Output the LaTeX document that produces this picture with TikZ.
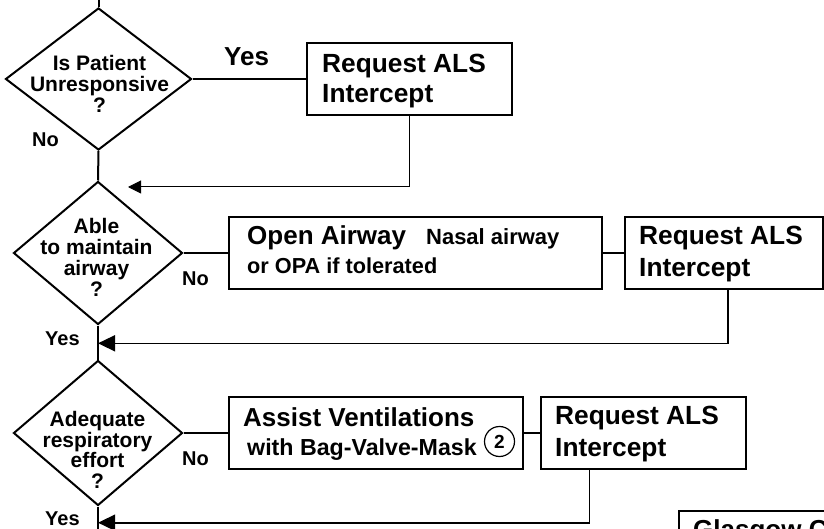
\documentclass[tikz,border=0pt]{standalone}
\usepackage{fontspec}
\setmainfont{Liberation Sans}
\usetikzlibrary{shapes.geometric,arrows.meta}
\begin{document}
\begin{tikzpicture}[x=1pt,y=-1pt,
  dia/.style={diamond, draw, line width=2pt, inner sep=0pt},
  dtext/.style={align=center, inner sep=0pt, font=\bfseries\fontsize{21}{21}\selectfont},
  box/.style={rectangle, draw, line width=2pt, inner sep=0pt, minimum height=72pt},
  btext/.style={align=left, inner sep=0pt, anchor=west},
  lab/.style={inner sep=0pt, anchor=base west, font=\bfseries\fontsize{20}{20}\selectfont},
  spine/.style={line width=2pt},
  link/.style={line width=1.6pt},
  arr/.style={line width=1.6pt, -{Triangle[length=17pt,width=16pt]}},
  thinarr/.style={line width=1pt, -{Triangle[length=13pt,width=13pt]}},
]
\useasboundingbox (0,0) rectangle (824,529);
\clip (0,0) rectangle (824,529);

% decision diamonds
\node[dia, minimum width=186pt, minimum height=142pt] (d1) at (98.5,79) {};
\node[dtext] (d1t) at (99.5,83.4) {Is Patient\\Unresponsive\\?};
\node[dia, minimum width=169pt, minimum height=143pt] (d2) at (98,253) {};
\node[dtext] (d2t) at (96.5,257.8) {Able\\to maintain\\airway\\?};
\node[dia, minimum width=169pt, minimum height=145pt] (d3) at (98,433) {};
\node[dtext, font=\bfseries\fontsize{21}{20.4}\selectfont] (d3t) at (97.5,449.8) {Adequate\\respiratory\\effort\\?};

% boxes
\node[box, minimum width=205pt] (b1) at (409.5,79) {};
\node[btext, font=\bfseries\fontsize{26.3}{30}\selectfont] (b1t) at (322,81.5) {Request ALS\\Intercept};

\node[box, minimum width=373pt] (b2) at (415.5,253) {};
\node[btext, font=\bfseries\fontsize{26}{28.3}\selectfont] (b2t) at (247,249.7)
  {Open Airway\hspace{20pt}{\fontsize{22}{28.3}\selectfont Nasal airway}\\{\fontsize{21.7}{28.3}\selectfont or OPA if tolerated}};

\node[box, minimum width=197.5pt] (b3) at (723.75,253) {};
\node[btext, font=\bfseries\fontsize{26.3}{32}\selectfont] (b3t) at (639,254.5) {Request ALS\\Intercept};

\node[box, minimum width=294pt] (b4) at (376,433) {};
\node[btext, font=\bfseries\fontsize{26}{28.3}\selectfont] (b4t) at (243,433.9)
  {Assist Ventilations\\\hspace*{4pt}{\fontsize{23.2}{28.3}\selectfont with Bag-Valve-Mask}};
\node[circle, draw, line width=1.2pt, minimum size=30pt, inner sep=0pt,
  font=\bfseries\fontsize{19}{19}\selectfont] (c2) at (499.5,441.5) {2};

\node[box, minimum width=204.7pt] (b5) at (643.35,433) {};
\node[btext, font=\bfseries\fontsize{26.3}{31.7}\selectfont] (b5t) at (555,434.3) {Request ALS\\Intercept};

\node[box, minimum width=240pt, minimum height=100pt] (b6) at (799.3,560.7) {};
\node[lab, font=\bfseries\fontsize{26}{30}\selectfont] (b6t) at (693,538.6) {Glasgow C};

% labels
\node[lab, font=\bfseries\fontsize{26}{26}\selectfont] (yes1) at (224,66) {Yes};
\node[lab] (no1) at (32,147) {No};
\node[lab] (no2) at (182,285) {No};
\node[lab] (yes2) at (45,345) {Yes};
\node[lab] (no3) at (182,465) {No};
\node[lab] (yes3) at (45,525) {Yes};

% free ends
\coordinate (top) at (98.5,-5);
\coordinate (bot) at (98,540);
\coordinate (a1) at (128,187);
\coordinate (a2) at (98,343.3);
\coordinate (a3) at (98,522.7);

% spine
\draw[spine] (top) -- (d1.north);
\draw[spine] (d1.south) -- (d2.north);
\draw[spine] (d2.south) -- (d3.north);
\draw[spine] (d3.south) -- (bot);

% links
\draw[spine] (d1.east) -- (b1.west);
\draw[link] (d2.east) -- (b2.west);
\draw[link] (b2.east) -- (b3.west);
\draw[link] (d3.east) -- (b4.west);
\draw[link] (b4.east) -- (b5.west);

% return arrows
\draw[thinarr] (b1.south) |- (a1);
\draw[arr] ([xshift=4pt]b3.south) |- (a2);
\draw[arr] ([xshift=-54pt]b5.south) |- (a3);
\end{tikzpicture}
\end{document}
